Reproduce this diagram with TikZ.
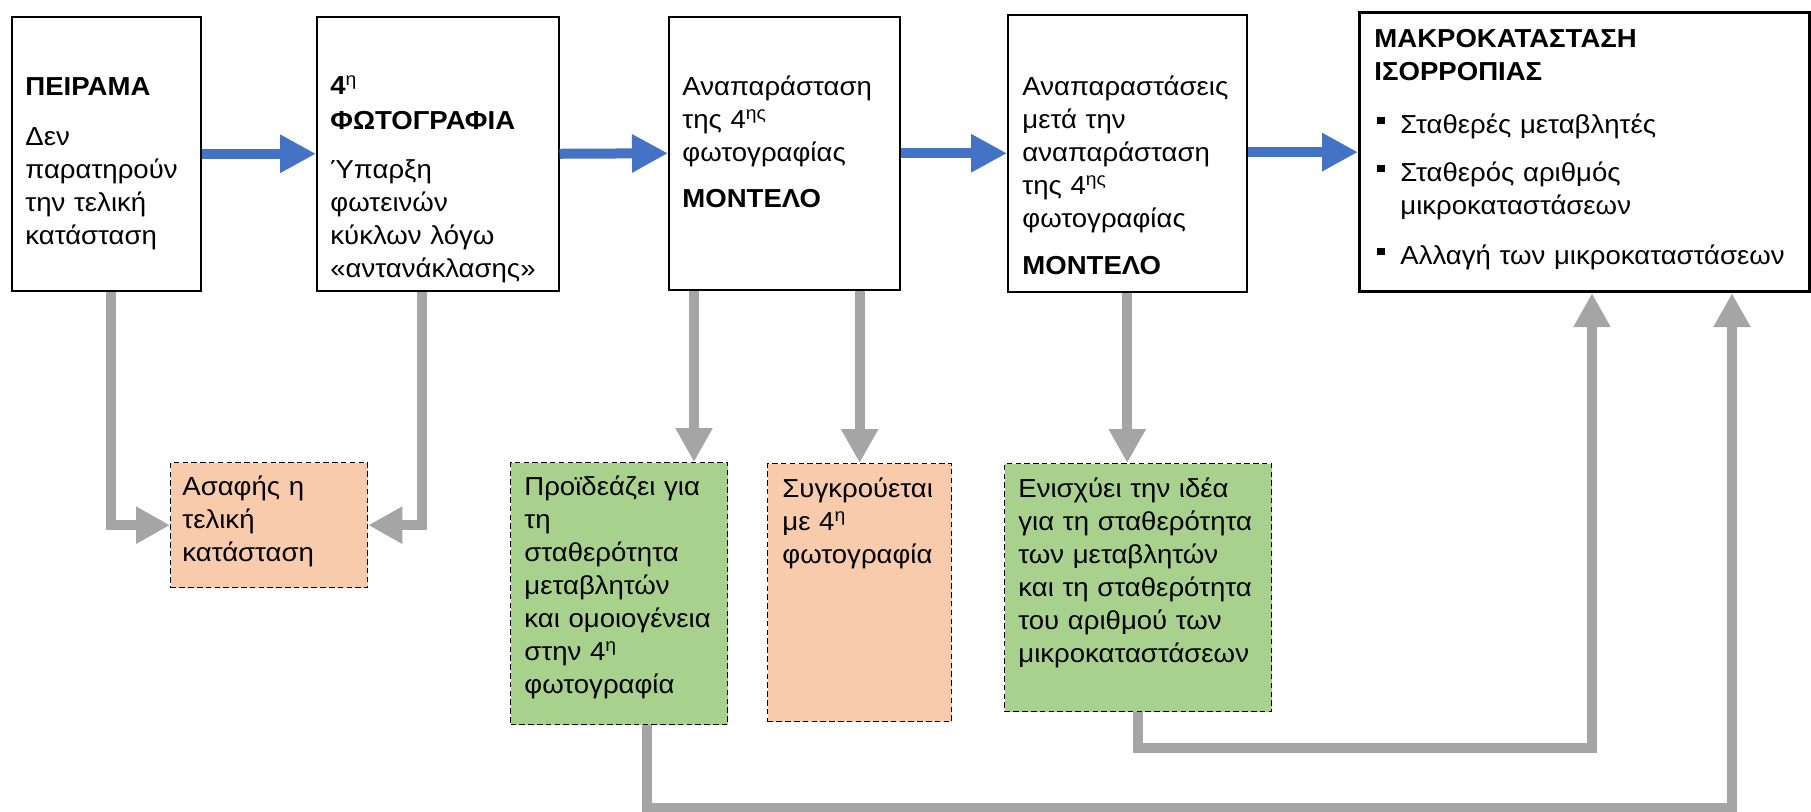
\documentclass[tikz,border=0pt]{standalone}
\usepackage{fontspec}
\setmainfont{Liberation Sans}[FakeStretch=1.06]
\usetikzlibrary{arrows.meta,calc}
\definecolor{bluearr}{HTML}{4472C4}
\definecolor{grayarr}{HTML}{A5A5A5}
\definecolor{orangefill}{HTML}{F8CBAD}
\definecolor{greenfill}{HTML}{A9D18E}
\newcommand{\sqbul}{\makebox[13pt][l]{\hspace*{1.5pt}\raisebox{4.3pt}{\rule{3.6pt}{3.6pt}}}}
\tikzset{
  mainbox/.style={draw=black, line width=0.75pt, fill=white, rectangle, inner sep=0pt, anchor=north west},
  bigbox/.style={mainbox, line width=1.6pt},
  notebox/.style={draw=black, line width=0.65pt, dash pattern=on 2.75pt off 1.65pt, rectangle, inner sep=0pt, anchor=north west},
  orangebox/.style={notebox, fill=orangefill},
  greenbox/.style={notebox, fill=greenfill},
  txt/.style={anchor=base west, inner sep=0pt, text width=#1, align=left, font=\fontsize{13pt}{16.5pt}\selectfont},
  flowarrow/.style={draw=bluearr, line width=5pt, -{Triangle[length=18pt,width=18pt]}},
  linkarrow/.style={draw=grayarr, line width=5pt, -{Triangle[length=17pt,width=17.5pt]}},
}
\begin{document}
\begin{tikzpicture}[x=0.5pt,y=-0.5pt]
\useasboundingbox (0,0) rectangle (1811,811);
% main boxes
\node[mainbox, minimum width=94.5pt, minimum height=137pt] (b1) at (11,16) {};
\node[mainbox, minimum width=121pt, minimum height=137pt] (b2) at (316,16) {};
\node[mainbox, minimum width=115.5pt, minimum height=136.5pt] (b3) at (668,16) {};
\node[mainbox, minimum width=119.5pt, minimum height=138.5pt] (b4) at (1007,14) {};
\node[bigbox, minimum width=225pt, minimum height=139.5pt] (b5) at (1358,11) {};
% note boxes
\node[orangebox, minimum width=98.5pt, minimum height=62.5pt] (o1) at (170,462) {};
\node[greenbox, minimum width=108.5pt, minimum height=131pt] (g1) at (510,462) {};
\node[orangebox, minimum width=92pt, minimum height=129pt] (o2) at (767,463) {};
\node[greenbox, minimum width=133.5pt, minimum height=124pt] (g2) at (1004,463) {};
% texts
\node[txt=92pt] (t1) at (25,95) {\textbf{ΠΕΙΡΑΜΑ}\\[8.5pt]Δεν\\παρατηρούν\\την τελική\\κατάσταση};
\node[txt=118pt] (t2) at (330,94) {\textbf{4}\textsuperscript{η}\\[1pt]\textbf{ΦΩΤΟΓΡΑΦΙΑ}\\[8pt]Ύπαρξη\\φωτεινών\\κύκλων λόγω\\«αντανάκλασης»};
\node[txt=112pt] (t3) at (682,95) {Αναπαράσταση\\της 4\textsuperscript{ης}\\φωτογραφίας\\[6.5pt]\textbf{ΜΟΝΤΕΛΟ}};
\node[txt=118pt] (t4) at (1022,95) {Αναπαραστάσεις\\μετά την\\αναπαράσταση\\της 4\textsuperscript{ης}\\φωτογραφίας\\[7pt]\textbf{ΜΟΝΤΕΛΟ}};
\node[txt=218pt] (t5) at (1374,47) {\textbf{ΜΑΚΡΟΚΑΤΑΣΤΑΣΗ}\\\textbf{ΙΣΟΡΡΟΠΙΑΣ}\\[10pt]\sqbul Σταθερές μεταβλητές\\[7.5pt]\sqbul Σταθερός αριθμός\\\hspace*{13pt}μικροκαταστάσεων\\[8.5pt]\sqbul Αλλαγή των μικροκαταστάσεων};
\node[txt=94pt] (t6) at (182,495) {Ασαφής η\\τελική\\κατάσταση};
\node[txt=104pt] (t7) at (524,495) {Προϊδεάζει για\\τη\\σταθερότητα\\μεταβλητών\\και ομοιογένεια\\στην 4\textsuperscript{η}\\φωτογραφία};
\node[txt=88pt] (t8) at (782,497) {Συγκρούεται\\με 4\textsuperscript{η}\\φωτογραφία};
\node[txt=130pt] (t9) at (1018,497) {Ενισχύει την ιδέα\\για τη σταθερότητα\\των μεταβλητών\\και τη σταθερότητα\\του αριθμού των\\μικροκαταστάσεων};
% level coordinates
\coordinate (lv1) at (0,748);
\coordinate (lv2) at (0,808);
% blue flow arrows
\draw[flowarrow] (b1.east) -- (b2.west);
\draw[flowarrow] (b2.east) -- (b3.west);
\draw[flowarrow] (b3.east) -- (b4.west);
\draw[flowarrow] (b4.east |- b5.west) -- (b5.west);
% gray links
\draw[linkarrow] ([xshift=2.5pt]b1.south) |- (o1.west);
\draw[linkarrow] ([xshift=-8pt]b2.south) |- (o1.east);
\draw[linkarrow] ([xshift=13pt]b3.south west) -- ([xshift=13pt]b3.south west |- g1.north);
\draw[linkarrow] (o2.north |- b3.south) -- (o2.north);
\draw[linkarrow] (b4.south) -- (b4.south |- g2.north);
\draw[linkarrow] (g2.south) -- (g2.south |- lv1) -| ([xshift=117pt]b5.south west);
\draw[linkarrow] ([xshift=13.75pt]g1.south) -- ([xshift=13.75pt]g1.south |- lv2) -| ([xshift=187pt]b5.south west);
\end{tikzpicture}
\end{document}
